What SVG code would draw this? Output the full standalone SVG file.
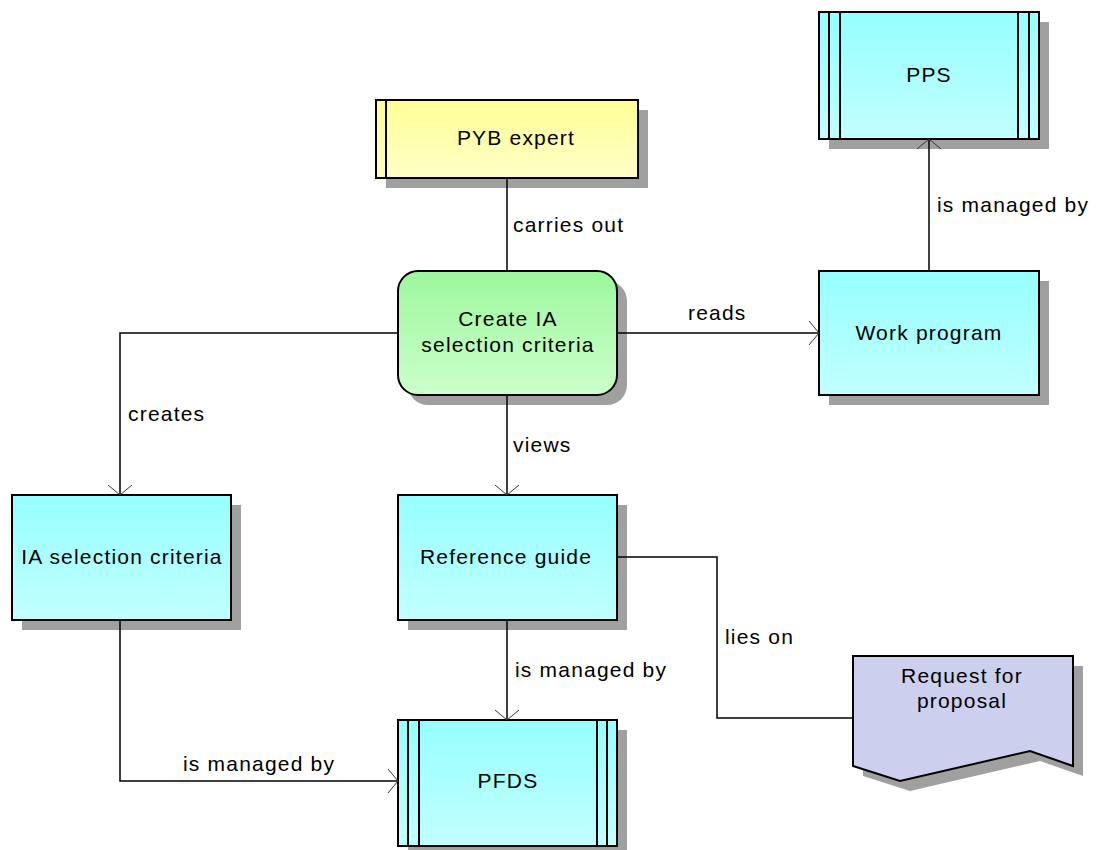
<svg xmlns="http://www.w3.org/2000/svg" width="1097" height="850" viewBox="0 0 1097 850">
  <defs>
    <linearGradient id="gCyan" x1="0" y1="0" x2="0" y2="1">
      <stop offset="0" stop-color="#96ffff"/>
      <stop offset="1" stop-color="#c2ffff"/>
    </linearGradient>
    <linearGradient id="gYellow" x1="0" y1="0" x2="0" y2="1">
      <stop offset="0" stop-color="#ffff96"/>
      <stop offset="1" stop-color="#ffffc8"/>
    </linearGradient>
    <linearGradient id="gGreen" x1="0" y1="0" x2="0" y2="1">
      <stop offset="0" stop-color="#9cf79c"/>
      <stop offset="1" stop-color="#ccffcc"/>
    </linearGradient>
    <marker id="arrow" viewBox="0 0 12 26" refX="11" refY="13" markerWidth="12" markerHeight="26" markerUnits="userSpaceOnUse" orient="auto">
      <path d="M1 1 L11 13 L1 25" fill="none" stroke="#333" stroke-width="1"/>
    </marker>
  </defs>
  <style>
    .shadow { fill: #a0a0a0; }
    .box { stroke: #000; stroke-width: 2; }
    .bar { stroke: #000; stroke-width: 2; fill: none; }
    .edge { fill: none; stroke: #000; stroke-width: 1.5; }
    text { font-family: "Liberation Sans", Arial, sans-serif; font-size: 21px; letter-spacing: 1.2px; fill: #000; }
    .c { text-anchor: middle; }
  </style>
  <rect width="1097" height="850" fill="#fff"/>

  <!-- role: PYB expert -->
  <g id="pyb-expert">
    <rect class="shadow" x="386" y="110" width="262" height="78"/>
    <rect class="box" x="376" y="100" width="262" height="78" fill="url(#gYellow)"/>
    <line class="bar" x1="386" y1="100" x2="386" y2="178"/>
    <text class="c" x="516" y="145">PYB expert</text>
  </g>

  <!-- function: Create IA selection criteria -->
  <g id="create-ia">
    <rect class="shadow" x="408" y="281" width="219" height="124" rx="20"/>
    <rect class="box" x="398" y="271" width="219" height="124" rx="20" fill="url(#gGreen)"/>
    <text class="c" x="508" y="326">Create IA</text>
    <text class="c" x="508" y="352">selection criteria</text>
  </g>

  <!-- system: PPS -->
  <g id="pps">
    <rect class="shadow" x="829" y="22" width="220" height="127"/>
    <rect class="box" x="819" y="12" width="220" height="127" fill="url(#gCyan)"/>
    <path class="bar" d="M829 12 V139 M840 12 V139 M1018 12 V139 M1029 12 V139"/>
    <text class="c" x="929" y="82">PPS</text>
  </g>

  <!-- information: Work program -->
  <g id="work-program">
    <rect class="shadow" x="829" y="281" width="220" height="124"/>
    <rect class="box" x="819" y="271" width="220" height="124" fill="url(#gCyan)"/>
    <text class="c" x="929" y="340">Work program</text>
  </g>

  <!-- information: IA selection criteria -->
  <g id="ia-criteria">
    <rect class="shadow" x="22" y="505" width="219" height="125"/>
    <rect class="box" x="12" y="495" width="219" height="125" fill="url(#gCyan)"/>
    <text class="c" x="122" y="564">IA selection criteria</text>
  </g>

  <!-- information: Reference guide -->
  <g id="reference-guide">
    <rect class="shadow" x="408" y="505" width="219" height="125"/>
    <rect class="box" x="398" y="495" width="219" height="125" fill="url(#gCyan)"/>
    <text class="c" x="506" y="564">Reference guide</text>
  </g>

  <!-- system: PFDS -->
  <g id="pfds">
    <rect class="shadow" x="408" y="730" width="219" height="126"/>
    <rect class="box" x="398" y="720" width="219" height="126" fill="url(#gCyan)"/>
    <path class="bar" d="M408 720 V846 M419 720 V846 M597 720 V846 M607 720 V846"/>
    <text class="c" x="508" y="788">PFDS</text>
  </g>

  <!-- document: Request for proposal -->
  <g id="request-for-proposal">
    <path class="shadow" d="M863 666 H1083 V776 L1040 761 L910 791 L863 776 Z"/>
    <path class="box" d="M853 656 H1073 V766 L1030 751 L900 781 L853 766 Z" fill="#ccd0ee"/>
    <text class="c" x="962" y="683">Request for</text>
    <text class="c" x="962" y="708">proposal</text>
  </g>

  <!-- connectors, drawn over the drop shadows -->
  <g id="connectors">
    <path class="edge" d="M507 178 V271"/>
    <text x="513" y="232">carries out</text>
    <path class="edge" d="M617 333 H819" marker-end="url(#arrow)"/>
    <text x="688" y="320">reads</text>
    <path class="edge" d="M929 271 V139" marker-end="url(#arrow)"/>
    <text x="937" y="212">is managed by</text>
    <path class="edge" d="M398 333 H120 V495" marker-end="url(#arrow)"/>
    <text x="128" y="421">creates</text>
    <path class="edge" d="M507 395 V495" marker-end="url(#arrow)"/>
    <text x="513" y="452">views</text>
    <path class="edge" d="M617 557 H717 V718 H853"/>
    <text x="725" y="644">lies on</text>
    <path class="edge" d="M507 620 V720" marker-end="url(#arrow)"/>
    <text x="515" y="677">is managed by</text>
    <path class="edge" d="M120 620 V781 H398" marker-end="url(#arrow)"/>
    <text x="183" y="771">is managed by</text>
  </g>
</svg>
